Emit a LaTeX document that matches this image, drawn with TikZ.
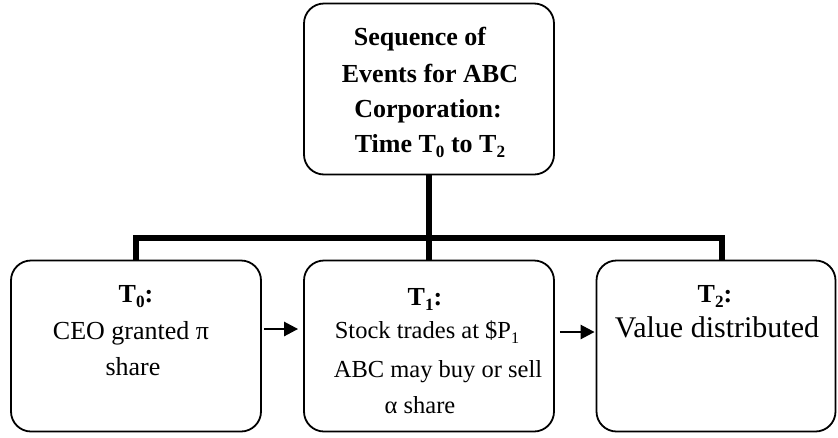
\documentclass[tikz,border=0pt]{standalone}
\usepackage{fontspec}
\usepackage{graphicx}
\setmainfont{Liberation Serif}
\usetikzlibrary{arrows.meta}

% lowered, reduced subscript in the current text font
\newcommand{\lowsub}[1]{\raisebox{-0.22em}{\scalebox{0.66}{#1}}}

\begin{document}
\begin{tikzpicture}[x=1pt, y=-1pt,
  box/.style={draw, line width=1.8pt, rounded corners=20pt, inner sep=0pt},
  txt/.style={anchor=base, inner sep=0pt, font=\fontsize{26}{30}\selectfont},
  btxt/.style={txt, font=\fontsize{26}{30}\selectfont\bfseries},
  stxt/.style={txt, font=\fontsize{24.5}{29}\selectfont},
  conn/.style={line width=5.5pt, line cap=butt, line join=miter},
  arr/.style={line width=2.6pt, -{Triangle[length=14pt,width=14pt]}}]

\useasboundingbox (0,0) rectangle (838,437);

% title box
\node[box, minimum width=250pt, minimum height=171pt] (top) at (429,89) {};
\node[btxt] (h1) at (420,45) {Sequence of};
\node[btxt] (h2) at (430,82) {Events for ABC};
\node[btxt] (h3) at (428,117) {Corporation:};
\node[btxt] (h4) at (430,152) {Time T\lowsub{0} to T\lowsub{2}};

% the three stages
\node[box, minimum width=250pt, minimum height=171pt] (b1) at (136,346) {};
\node[box, minimum width=250pt, minimum height=171pt] (b2) at (429,346) {};
\node[box, minimum width=239pt, minimum height=171pt] (b3) at (716,346) {};

\node[btxt] (s1) at (136,302) {T\lowsub{0}:};
\node[txt] (c1) at (131,339) {CEO granted π};
\node[txt] (c2) at (133,375) {share};

\node[btxt] (s2) at (425,305) {T\lowsub{1}:};
\node[stxt] (d1) at (427,338) {Stock trades at \$P\lowsub{1}};
\node[stxt] (d2) at (438,377) {ABC may buy or sell};
\node[stxt] (d3) at (420,413) {α share};

\node[btxt] (s3) at (715,302) {T\lowsub{2}:};
\node[txt, font=\fontsize{30}{34}\selectfont] (e1) at (717,337) {Value distributed};

% tree connectors
\coordinate (barL) at (136,238);
\coordinate (barR) at (722,238);
\draw[conn] (b1.north -| barL) -- (barL) -- (barR) -- (b3.north -| barR);
\draw[conn] (top.south) -- (b2.north);

% time arrows
\draw[arr, shorten <=2pt, shorten >=5pt] ([yshift=17pt]b1.east) -- ([yshift=17pt]b2.west);
\draw[arr, shorten <=5pt, shorten >=1pt] ([yshift=14pt]b2.east) -- ([yshift=14pt]b3.west);
\end{tikzpicture}
\end{document}
